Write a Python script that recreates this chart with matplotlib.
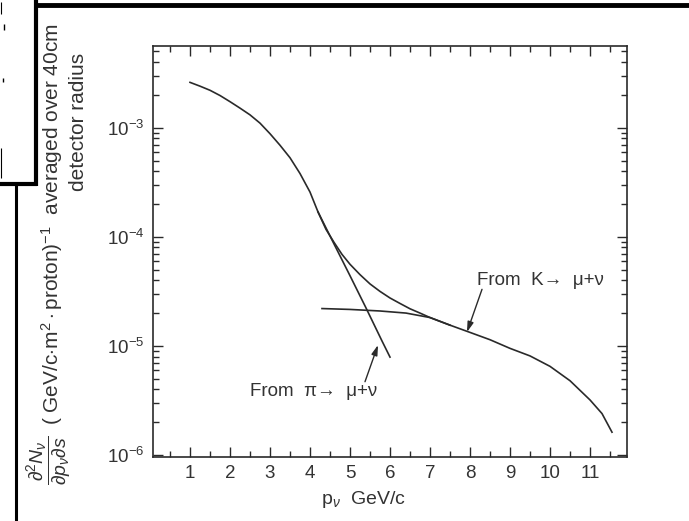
import matplotlib.pyplot as plt
from matplotlib.lines import Line2D
from matplotlib.ticker import FixedLocator, LogLocator, NullFormatter

plt.rcParams['font.family'] = ['Liberation Sans', 'DejaVu Sans']
plt.rcParams['mathtext.fontset'] = 'custom'
plt.rcParams['mathtext.rm'] = 'Liberation Sans'
plt.rcParams['mathtext.it'] = 'Liberation Sans:italic'
plt.rcParams['mathtext.bf'] = 'Liberation Sans:bold'

INK = '#2a2a2a'
TXT = '#333333'

# neutrino flux vs momentum (total, pion and kaon decay parts)
p_total = [1.0, 1.25, 1.5, 1.75, 2.0, 2.25, 2.5, 2.75, 3.0, 3.25, 3.5, 3.75,
           4.0, 4.2, 4.4, 4.6, 4.8, 5.0, 5.25, 5.5, 5.75, 6.0, 6.25, 6.5,
           6.75, 7.0, 7.5, 8.0, 8.5, 9.0, 9.5, 10.0, 10.5, 11.0, 11.3, 11.55]
n_total = [2.6e-3, 2.4e-3, 2.2e-3, 1.97e-3, 1.73e-3, 1.51e-3, 1.31e-3, 1.1e-3,
           8.8e-4, 6.9e-4, 5.3e-4, 3.8e-4, 2.57e-4, 1.69e-4, 1.17e-4, 8.9e-5,
           6.9e-5, 5.6e-5, 4.5e-5, 3.7e-5, 3.16e-5, 2.75e-5, 2.45e-5, 2.19e-5,
           2.0e-5, 1.82e-5, 1.55e-5, 1.33e-5, 1.14e-5, 9.5e-6, 8.1e-6, 6.5e-6,
           4.8e-6, 3.2e-6, 2.4e-6, 1.62e-6]

p_pion = [4.2, 4.6, 5.0, 5.4, 5.8, 6.0]
n_pion = [1.69e-4, 8.6e-5, 4.4e-5, 2.23e-5, 1.11e-5, 7.9e-6]

p_kaon = [4.3, 5.0, 5.75, 6.4, 7.0, 7.5]
n_kaon = [2.2e-5, 2.16e-5, 2.09e-5, 2.0e-5, 1.82e-5, 1.55e-5]

x_ticks = [1, 2, 3, 4, 5, 6, 7, 8, 9, 10, 11]
y_ticks = [1e-6, 1e-5, 1e-4, 1e-3]
y_labels = ['10$^{-6}$', '10$^{-5}$', '10$^{-4}$', '10$^{-3}$']

fig = plt.figure(figsize=(6.89, 5.21), dpi=100)
ax = fig.add_axes([153 / 689, 1 - 457 / 521, 474 / 689, 411 / 521])

ax.plot(p_total, n_total, color=INK, lw=1.2)
ax.plot(p_pion, n_pion, color=INK, lw=1.2)
ax.plot(p_kaon, n_kaon, color=INK, lw=1.2)

ax.set_yscale('log')
ax.set_xlim(0.075, 11.925)
ax.set_ylim(9.6e-7, 5.6e-3)

ax.set_xticks(x_ticks)
ax.set_xticklabels([str(t) for t in x_ticks])
ax.xaxis.set_minor_locator(FixedLocator([t + 0.5 for t in range(0, 12)]))
ax.set_yticks(y_ticks)
ax.set_yticklabels(y_labels)
ax.yaxis.set_minor_locator(LogLocator(base=10, subs=range(2, 10)))
ax.yaxis.set_minor_formatter(NullFormatter())

ax.tick_params(which='both', direction='in', top=True, right=True,
               color=INK, width=1.0, labelsize=13.5, labelcolor=TXT)
ax.tick_params(which='major', length=7, pad=6)
ax.tick_params(which='minor', length=4)
for s in ax.spines.values():
    s.set_color(INK)
    s.set_linewidth(1.2)

arrow = dict(arrowstyle='-|>,head_width=0.18,head_length=0.6', color=INK,
             lw=1.0, shrinkA=0, shrinkB=0)
ax.text(8.175, 4.0e-5, 'From  K\u2192  \u03bc+\u03bd', fontsize=13.5,
        color=TXT, va='center', ha='left')
ax.annotate('', xy=(7.925, 1.34e-5), xytext=(8.3, 3.3e-5), arrowprops=arrow)
ax.text(2.5, 3.8e-6, 'From  \u03c0\u2192  \u03bc+\u03bd', fontsize=13.5,
        color=TXT, va='center', ha='left')
ax.annotate('', xy=(5.7, 1.02e-5), xytext=(5.375, 4.7e-6), arrowprops=arrow)

fig.text(363 / 689, 1 - 500 / 521, r'p$_\nu$  GeV/c', fontsize=14,
         color=TXT, ha='center', va='center')

# rotated y-axis label, built from three pieces
fig.text(49 / 689, 1 - 460 / 521,
         r'$\dfrac{\partial^2 N_\nu}{\partial p_\nu \partial s}$',
         rotation=90, fontsize=14, color=TXT, ha='center', va='center')
fig.text(52 / 689, 1 - 425 / 521,
         r'( GeV/c$\cdot$m$^2\cdot$proton)$^{-1}$  averaged over 40cm',
         rotation=90, fontsize=15, color=TXT, ha='center', va='bottom')
fig.text(78 / 689, 1 - 122 / 521, 'detector radius', rotation=90,
         fontsize=15, color=TXT, ha='center', va='center')


# frame borders around the panel
def fig_line(x0, y0, x1, y1, lw):
    fig.add_artist(Line2D([x0 / 689, x1 / 689], [1 - y0 / 521, 1 - y1 / 521],
                          transform=fig.transFigure, color='black', lw=lw,
                          solid_capstyle='butt'))


fig_line(34, 5, 689, 5, 3.5)
fig_line(36, 0, 36, 186, 3.0)
fig_line(0, 184, 37, 184, 3.0)
fig_line(16, 184, 16, 521, 2.2)
fig_line(1, 2, 1, 14, 0.8)
fig_line(1, 148, 1, 178, 0.8)
fig_line(4, 24, 4, 30, 1.0)
fig_line(3, 78, 3, 82, 1.0)

fig.savefig('out.png', dpi=100)
